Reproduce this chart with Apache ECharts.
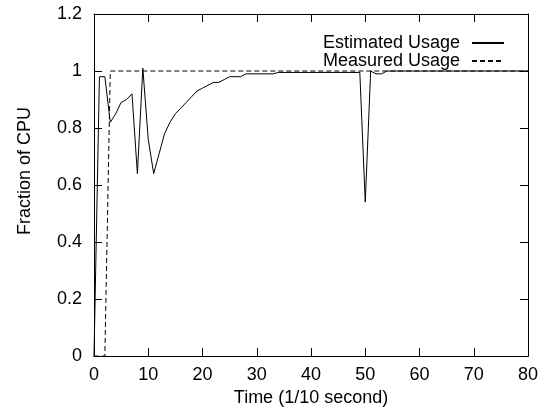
<!DOCTYPE html>
<html>
<head>
<meta charset="utf-8">
<script src="https://cdn.jsdelivr.net/npm/echarts@6/dist/echarts.min.js"></script>
<style>html,body{margin:0;padding:0;background:#fff}#c{width:547px;height:412px}</style>
</head>
<body>
<div id="c"></div>
<script>
const estTime  = [0, 1, 2, 3, 4, 5, 6, 7, 8, 9, 10, 11, 12, 13, 14, 15, 16, 17, 18, 19, 20, 21, 22, 23, 24, 25, 26, 27, 28, 33, 34, 49, 50, 51, 52, 53, 54, 80];
const estValue = [0, 0.98, 0.98, 0.82, 0.85, 0.89, 0.90, 0.92, 0.64, 1.01, 0.76, 0.64, 0.71, 0.78, 0.82, 0.85, 0.87, 0.89, 0.91, 0.93, 0.94, 0.95, 0.96, 0.96, 0.97, 0.98, 0.98, 0.98, 0.99, 0.99, 0.995, 0.995, 0.54, 1.0, 0.99, 0.99, 1.0, 1.0];
const measTime  = [0, 2, 3, 80];
const measValue = [0, 0, 1, 1];
const seriesNames = ['Estimated Usage', 'Measured Usage'];
const xTitle = 'Time (1/10 second)';
const yTitle = 'Fraction of CPU';

const FONT = 'Liberation Sans';
function axisCommon() {
  return {
    axisLine: {show: true, onZero: false, lineStyle: {color: '#000', width: 1}},
    axisTick: {show: true, inside: true, length: 8, lineStyle: {color: '#000', width: 1}},
    splitLine: {show: false}
  };
}
const chart = echarts.init(document.getElementById('c'), null, {renderer: 'canvas'});
chart.setOption({
  animation: false,
  backgroundColor: '#fff',
  textStyle: {fontFamily: FONT},
  grid: {left: 94, right: 19, top: 14, bottom: 50},
  legend: {
    orient: 'vertical', right: 37, top: 29, align: 'right',
    itemWidth: 32, itemHeight: 10, itemGap: 0,
    itemStyle: {opacity: 0, borderWidth: 0},
    textStyle: {fontFamily: FONT, fontSize: 18, color: '#000', padding: [0, 7, 0, 0]},
    data: seriesNames
  },
  xAxis: [
    Object.assign({type: 'value', min: 0, max: 80, interval: 10,
      axisLabel: {color: '#000', fontSize: 18, fontFamily: FONT, margin: 10},
      name: xTitle, nameLocation: 'middle', nameGap: 30,
      nameTextStyle: {color: '#000', fontSize: 18, fontFamily: FONT}}, axisCommon()),
    Object.assign({type: 'value', min: 0, max: 80, interval: 10, position: 'top',
      axisLabel: {show: false}}, axisCommon())
  ],
  yAxis: [
    Object.assign({type: 'value', min: 0, max: 1.2, interval: 0.2,
      axisLabel: {color: '#000', fontSize: 18, fontFamily: FONT, margin: 12,
        formatter: v => String(Math.round(v * 10) / 10)},
      name: yTitle, nameLocation: 'middle', nameGap: 60,
      nameTextStyle: {color: '#000', fontSize: 18, fontFamily: FONT, padding: [0, 0, 0, 28]}}, axisCommon()),
    Object.assign({type: 'value', min: 0, max: 1.2, interval: 0.2, position: 'right',
      axisLabel: {show: false}}, axisCommon())
  ],
  series: [
    {name: seriesNames[0], type: 'line', symbol: 'none', data: estTime.map((t, i) => [t, estValue[i]]),
      lineStyle: {color: '#000', width: 1, type: 'solid'}, itemStyle: {color: '#000'}, z: 3},
    {name: seriesNames[1], type: 'line', symbol: 'none', data: measTime.map((t, i) => [t, measValue[i]]),
      lineStyle: {color: '#000', width: 1, type: [5, 3]}, itemStyle: {color: '#000'}, z: 2}
  ]
});
</script>
</body>
</html>
